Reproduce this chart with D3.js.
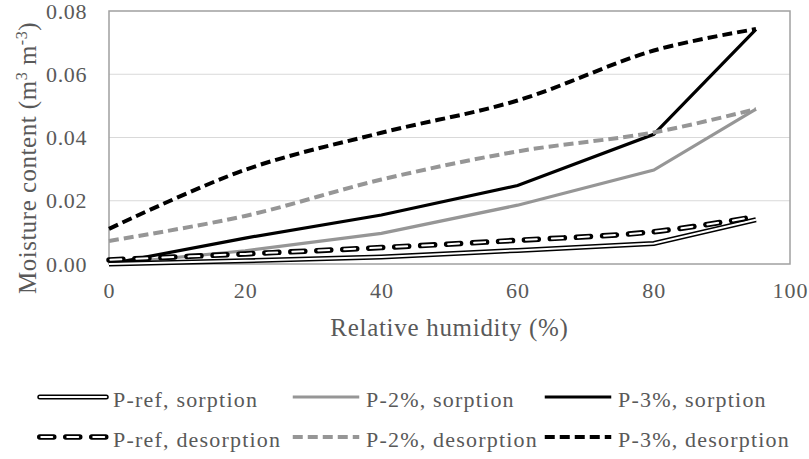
<!DOCTYPE html>
<html>
<head>
<meta charset="utf-8">
<script src="https://cdn.jsdelivr.net/npm/d3@7"></script>
<style>
  body { margin: 0; background: #fff; }
  svg text { font-family: "Liberation Serif", "Times New Roman", serif; fill: #595959; }
</style>
</head>
<body>
<svg id="chart" width="809" height="459" font-family="Liberation Serif"></svg>
<script>
// data
const rh = [0, 20, 40, 60, 80, 95]
const pRefSorp = [0.0000, 0.0010, 0.0022, 0.0043, 0.0065, 0.0140]
const p2Sorp   = [0.0000, 0.0042, 0.0097, 0.0186, 0.0297, 0.0490]
const p3Sorp   = [0.0000, 0.0082, 0.0155, 0.0248, 0.0410, 0.0742]
const pRefDes  = [0.0013, 0.0032, 0.0052, 0.0075, 0.0102, 0.0150]
const p2Des    = [0.0073, 0.0152, 0.0267, 0.0356, 0.0416, 0.0490]
const p3Des    = [0.0111, 0.0298, 0.0415, 0.0517, 0.0675, 0.0743]
const xTicks = [0, 20, 40, 60, 80, 100]
const yTicks = [0, 0.02, 0.04, 0.06, 0.08]

const gray = '#969696'
const series = [
  { name: 'P-ref, sorption',   vals: pRefSorp, kind: 'double' },
  { name: 'P-2%, sorption',    vals: p2Sorp,   kind: 'solid', color: gray },
  { name: 'P-3%, sorption',    vals: p3Sorp,   kind: 'solid', color: '#000' },
  { name: 'P-ref, desorption', vals: pRefDes,  kind: 'doubleDash' },
  { name: 'P-2%, desorption',  vals: p2Des,    kind: 'dash', color: gray },
  { name: 'P-3%, desorption',  vals: p3Des,    kind: 'dash', color: '#000' }
]

const FONT = '"Liberation Serif", "Times New Roman", serif'
const svg = d3.select('#chart')
const m = { left: 109, right: 790, top: 11, bottom: 264 }
const x = d3.scaleLinear().domain([0, 100]).range([m.left, m.right])
const y = d3.scaleLinear().domain([0, 0.08]).range([m.bottom, m.top])

// gridlines
svg.append('g').selectAll('line').data(yTicks.slice(1, -1)).join('line')
  .attr('x1', m.left).attr('x2', m.right)
  .attr('y1', d => y(d)).attr('y2', d => y(d))
  .attr('stroke', '#d9d9d9').attr('stroke-width', 1.2)

// frame
svg.append('rect')
  .attr('x', m.left).attr('y', m.top)
  .attr('width', m.right - m.left).attr('height', m.bottom - m.top)
  .attr('fill', 'none').attr('stroke', '#a0a0a0').attr('stroke-width', 1.5)

// axes (labels only)
const xAxis = svg.append('g').attr('transform', `translate(0,${m.bottom})`)
  .call(d3.axisBottom(x).tickValues(xTicks).tickSize(0).tickPadding(18))
xAxis.attr('font-family', null).attr('font-size', null)
xAxis.select('.domain').remove()
xAxis.selectAll('text').style('font-family', FONT).style('font-size', '22px')
  .style('letter-spacing', '1px').attr('fill', '#595959')

const yAxis = svg.append('g').attr('transform', `translate(${m.left},0)`)
  .call(d3.axisLeft(y).tickValues(yTicks).tickSize(0).tickPadding(22).tickFormat(d3.format('.2f')))
yAxis.attr('font-family', null).attr('font-size', null)
yAxis.select('.domain').remove()
yAxis.selectAll('text').style('font-family', FONT).style('font-size', '22px')
  .style('letter-spacing', '0.6px').attr('fill', '#595959')

svg.append('text')
  .attr('x', (m.left + m.right) / 2).attr('y', 336)
  .attr('text-anchor', 'middle')
  .style('font-family', FONT).style('font-size', '25px').style('letter-spacing', '0.7px')
  .text('Relative humidity (%)')

const yt = svg.append('text')
  .attr('transform', `translate(36,158) rotate(-90)`)
  .attr('text-anchor', 'middle')
  .style('font-family', FONT).style('font-size', '25px').style('letter-spacing', '0.5px')
yt.append('tspan').text('Moisture content (m')
yt.append('tspan').attr('dy', -9).style('font-size', '16px').text('3')
yt.append('tspan').attr('dy', 9).text(' m')
yt.append('tspan').attr('dy', -9).style('font-size', '16px').text('-3')
yt.append('tspan').attr('dy', 9).text(')')

const lineStraight = d3.line().x((d, i) => x(rh[i])).y(d => y(d))
const lineSmooth = d3.line().x((d, i) => x(rh[i])).y(d => y(d)).curve(d3.curveCatmullRom.alpha(0.5))

function drawStyled(g, dAttr, s, cap) {
  if (s.kind === 'double') {
    g.append('path').attr('d', dAttr).attr('fill', 'none').attr('stroke', '#000').attr('stroke-width', 5)
      .attr('stroke-linecap', cap)
    g.append('path').attr('d', dAttr).attr('fill', 'none').attr('stroke', '#fff').attr('stroke-width', 2)
      .attr('stroke-linecap', cap)
  } else if (s.kind === 'doubleDash') {
    g.append('path').attr('d', dAttr).attr('fill', 'none').attr('stroke', '#000').attr('stroke-width', 5.5)
      .attr('stroke-dasharray', '14 12').attr('stroke-linecap', 'round')
    g.append('path').attr('d', dAttr).attr('fill', 'none').attr('stroke', '#fff').attr('stroke-width', 2)
      .attr('stroke-dasharray', '11 15').attr('stroke-dashoffset', -1.5).attr('stroke-linecap', 'round')
  } else if (s.kind === 'solid') {
    g.append('path').attr('d', dAttr).attr('fill', 'none').attr('stroke', s.color).attr('stroke-width', 3.2)
  } else {
    g.append('path').attr('d', dAttr).attr('fill', 'none').attr('stroke', s.color).attr('stroke-width', 4)
      .attr('stroke-dasharray', '10 5')
  }
}

// draw order: sorption lines first, desorption on top
const order = [1, 2, 4, 5, 0, 3]
order.forEach(i => {
  const s = series[i]
  const gen = s.kind === 'solid' || s.kind === 'double' ? lineStraight : lineSmooth
  drawStyled(svg.append('g'), gen(s.vals), s, 'butt')
})

// legend
const legCols = [37, 290, 542]
const legRows = [397, 437]
series.forEach((s, i) => {
  const cx = legCols[i % 3], cy = legRows[Math.floor(i / 3)]
  const g = svg.append('g')
  drawStyled(g, `M${cx + 2.75},${cy}L${cx + 69.25},${cy}`, s, 'round')
  g.append('text').attr('x', cx + 76).attr('y', cy + 10)
    .style('font-family', FONT).style('font-size', '22px').style('letter-spacing', '1.2px')
    .text(s.name)
})
</script>
</body>
</html>
